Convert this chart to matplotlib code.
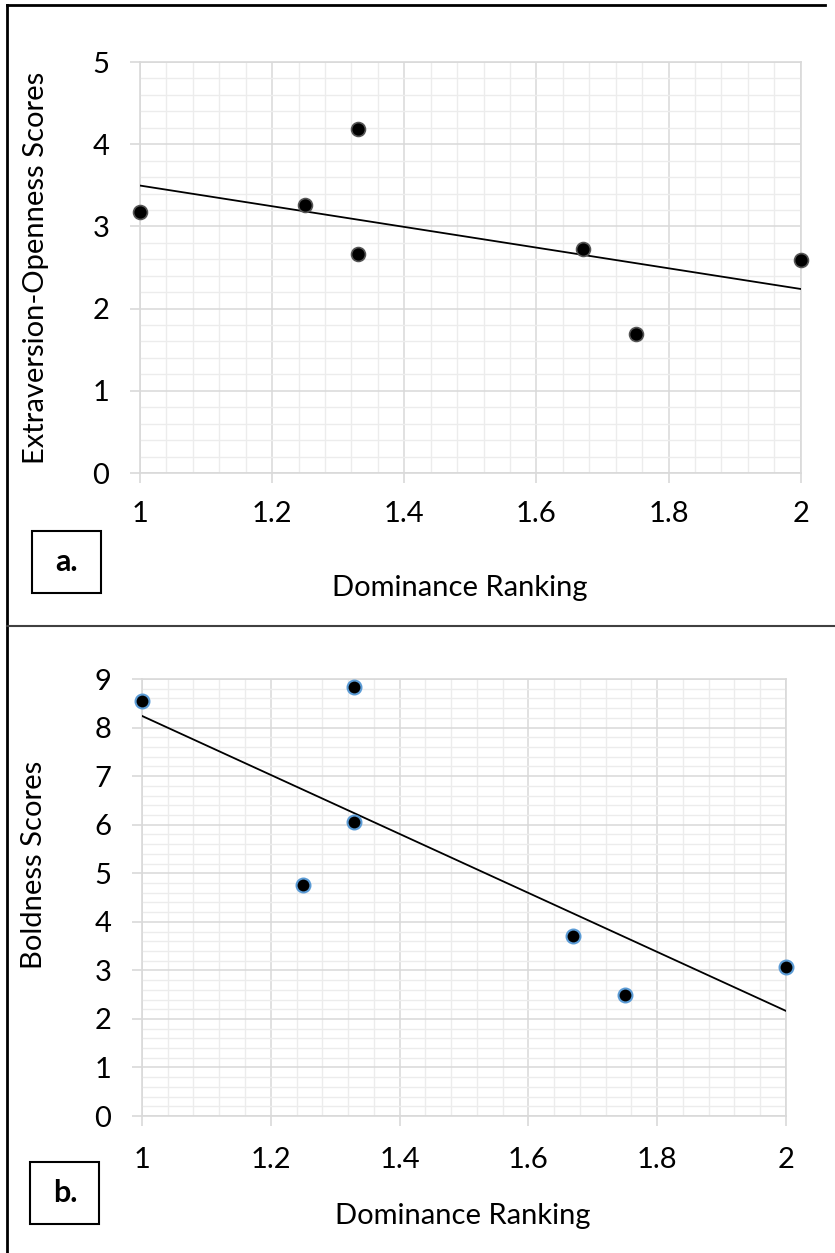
"""Dominance ranking vs personality scores, two stacked scatter panels."""

import matplotlib
matplotlib.use("Agg")
import matplotlib.pyplot as plt
import numpy as np
from matplotlib.lines import Line2D
from matplotlib.patches import Rectangle
from matplotlib.ticker import MultipleLocator

plt.rcParams["font.family"] = ["Lato", "DejaVu Sans"]

dominance_a = [1.0, 1.25, 1.33, 1.33, 1.67, 1.75, 2.0]
extra_open = [3.17, 3.26, 4.18, 2.67, 2.73, 1.69, 2.59]

dominance_b = [1.0, 1.25, 1.33, 1.33, 1.67, 1.75, 2.0]
boldness = [8.54, 4.76, 8.83, 6.06, 3.71, 2.49, 3.06]

x_ticks = [1, 1.2, 1.4, 1.6, 1.8, 2]
x_tick_labels = ["1", "1.2", "1.4", "1.6", "1.8", "2"]

FS = 21
GRID_MAJOR = "#d9d9d9"
GRID_MINOR = "#ececec"


def style_axes(ax, ymax):
    ax.set_xlim(1, 2)
    ax.set_ylim(0, ymax)
    ax.set_xticks(x_ticks)
    ax.set_xticklabels(x_tick_labels)
    ax.yaxis.set_major_locator(MultipleLocator(1))
    ax.xaxis.set_minor_locator(MultipleLocator(0.04))
    ax.yaxis.set_minor_locator(MultipleLocator(0.2))
    ax.grid(True, which="minor", color=GRID_MINOR, lw=1.0)
    ax.grid(True, which="major", color=GRID_MAJOR, lw=1.1)
    ax.set_axisbelow(True)
    for side in ax.spines.values():
        side.set_color(GRID_MAJOR)
        side.set_linewidth(1.2)
    ax.tick_params(which="major", direction="out", length=7, width=1.2,
                   color=GRID_MAJOR, labelsize=FS)
    ax.tick_params(which="minor", length=0)
    ax.tick_params(axis="y", pad=15)
    ax.tick_params(axis="x", pad=13)


def trend(ax, x, y):
    slope, intercept = np.polyfit(x, y, 1)
    xs = np.array([1.0, 2.0])
    ax.plot(xs, slope * xs + intercept, color="black", lw=1.3, zorder=3)


fig = plt.figure(figsize=(8.35, 12.53), dpi=100)

# panel a
ax_a = fig.add_axes([0.1677, 0.6225, 0.7912, 0.328])
style_axes(ax_a, 5)
trend(ax_a, dominance_a, extra_open)
ax_a.scatter(dominance_a, extra_open, s=100, color="black", edgecolors="#555555",
             linewidths=1.2, zorder=4, clip_on=False)
ax_a.set_xlabel("Dominance Ranking", fontsize=FS)
ax_a.xaxis.set_label_coords(0.484, -0.248)
ax_a.set_ylabel("Extraversion-Openness Scores", fontsize=FS)
ax_a.yaxis.set_label_coords(-0.138, 0.5)

# panel b
ax_b = fig.add_axes([0.170, 0.1093, 0.7713, 0.3488])
style_axes(ax_b, 9)
ax_b.tick_params(axis="x", pad=15)
trend(ax_b, dominance_b, boldness)
ax_b.scatter(dominance_b, boldness, s=100, color="black", edgecolors="#5b9bd5",
             linewidths=1.5, zorder=4, clip_on=False)
ax_b.set_xlabel("Dominance Ranking", fontsize=FS)
ax_b.xaxis.set_label_coords(0.498, -0.199)
ax_b.set_ylabel("Boldness Scores", fontsize=FS)
ax_b.yaxis.set_label_coords(-0.148, 0.574)

# frame, divider and panel tags
fig.add_artist(Line2D([0.0084, 0.0084], [0.0, 0.996], color="black", lw=2))
fig.add_artist(Line2D([0.0084, 0.988], [0.996, 0.996], color="black", lw=2))
fig.add_artist(Line2D([0.0084, 1.0], [0.5006, 0.5006], color="#404040", lw=1.5))

for (x0, y0, cx, cy, tag) in [(0.0383, 0.5267, 0.0796, 0.5515, "a."),
                              (0.0359, 0.0231, 0.0778, 0.0479, "b.")]:
    fig.add_artist(Rectangle((x0, y0), 0.0826, 0.0495, transform=fig.transFigure,
                             fill=False, edgecolor="black", lw=1.5))
    fig.text(cx, cy, tag, fontsize=FS + 1, fontweight="bold", ha="center", va="center")

fig.savefig("out.png", dpi=100)
